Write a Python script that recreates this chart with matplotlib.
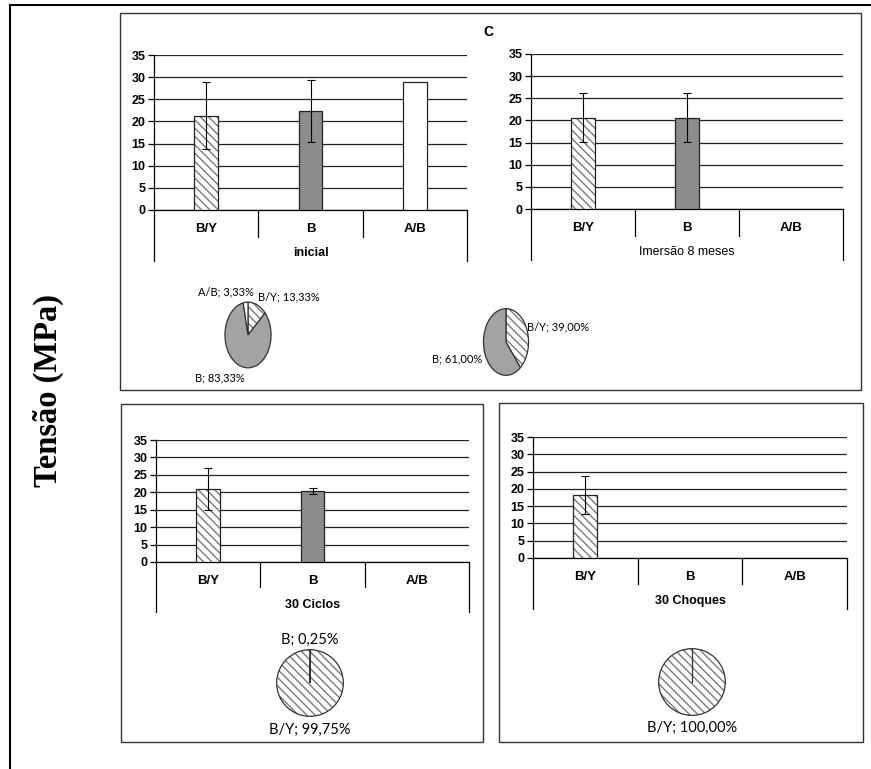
import matplotlib
matplotlib.use("Agg")
import matplotlib.pyplot as plt
from matplotlib.patches import Rectangle
from matplotlib.lines import Line2D

# ---- data ----
categories = ["B/Y", "B", "A/B"]

panel_titles = ["inicial", "Imersão 8 meses", "30 Ciclos", "30 Choques"]
panel_title_bold = [True, False, True, True]

# mean tension (MPa) per category, None = no bar
means = [
    [21.3, 22.3, 28.9],
    [20.6, 20.6, None],
    [20.9, 20.4, None],
    [18.2, None, None],
]
errors = [
    [7.5, 7.0, None],
    [5.5, 5.5, None],
    [6.0, 0.8, None],
    [5.5, None, None],
]

# failure-mode shares (%), order clockwise from 12 o'clock
pie_labels = [
    ["B/Y", "B", "A/B"],
    ["B/Y", "B"],
    ["B", "B/Y"],
    ["B/Y"],
]
pie_values = [
    [13.33, 83.33, 3.33],
    [39.00, 61.00],
    [0.25, 99.75],
    [100.00],
]

W, H = 871, 769
fig = plt.figure(figsize=(W / 100, H / 100), dpi=100)

BAR_FONT = "Liberation Sans"
PIE_FONT = "Lato"
GREY_FILL = "#8c8c8c"
PIE_GREY = "#a3a3a3"
HATCH_COL = "#7a7a7a"
plt.rcParams["hatch.linewidth"] = 1.0


def fx(x):
    return x / W


def fy(y):
    return 1 - y / H


def px_axes(x0, y0, x1, y1):
    return fig.add_axes([fx(x0), fy(y1), fx(x1) - fx(x0), fy(y0) - fy(y1)])


def style_for(label):
    if label == "B/Y":
        return dict(facecolor="white", hatch="\\\\\\\\", hatch_color=HATCH_COL)
    if label == "B":
        return dict(facecolor=GREY_FILL, hatch=None, hatch_color=None)
    return dict(facecolor="white", hatch=None, hatch_color=None)


# bar axes geometry in pixels: x0, ytop(35), x1, ybottom(0), level1 bottom, outer bottom
bar_geom = [
    (154, 55, 467, 210, 237, 261),
    (531, 54, 843, 209, 236, 260),
    (156, 440, 469, 562, 587, 612),
    (533, 437, 847, 558, 584, 609),
]

for i, (x0, yt, x1, yb, yl1, yl2) in enumerate(bar_geom):
    ax = px_axes(x0, yt, x1, yb)
    h = yb - yt
    ax.set_xlim(0, 3)
    ax.set_ylim(0, 35)
    ax.set_axisbelow(True)
    ax.yaxis.grid(True, color="#222222", linewidth=0.9)
    ax.set_yticks(range(0, 36, 5))
    ax.tick_params(axis="y", length=4, width=0.9, pad=2)
    ax.set_xticks([])
    for lab in ax.get_yticklabels():
        lab.set_fontfamily(BAR_FONT)
        lab.set_fontweight("bold")
        lab.set_fontsize(9)
    for s in ["top", "right"]:
        ax.spines[s].set_visible(False)
    ax.spines["left"].set_linewidth(0.9)
    ax.spines["bottom"].set_linewidth(0.9)

    for j, cat in enumerate(categories):
        m = means[i][j]
        if m is None:
            continue
        st = style_for(cat)
        b = ax.bar(j + 0.5, m, width=0.23, facecolor=st["facecolor"],
                   edgecolor="#222222", linewidth=0.9, hatch=st["hatch"], zorder=3)
        if st["hatch_color"]:
            b[0]._hatch_color = matplotlib.colors.to_rgba(st["hatch_color"])
        e = errors[i][j]
        if e is not None:
            ax.errorbar(j + 0.5, m, yerr=e, fmt="none", ecolor="black",
                        elinewidth=0.8, capsize=3, capthick=0.8, zorder=4)

    # multi-level category axis
    d1 = -(yl1 - yb) / h
    d2 = -(yl2 - yb) / h
    kw = dict(transform=ax.transAxes, clip_on=False, color="black", linewidth=0.9)
    ax.add_line(Line2D([0, 0], [0, d2], **kw))
    ax.add_line(Line2D([1, 1], [0, d2], **kw))
    for k in (1, 2):
        ax.add_line(Line2D([k / 3, k / 3], [0, d1], **kw))
    for j, cat in enumerate(categories):
        ax.text((j + 0.5) / 3, -19 / h, cat, transform=ax.transAxes,
                ha="center", va="center", fontsize=9.5, fontweight="bold",
                fontfamily=BAR_FONT)
    ax.text(0.5, -43 / h, panel_titles[i], transform=ax.transAxes,
            ha="center", va="center", fontsize=9,
            fontweight="bold" if panel_title_bold[i] else "normal",
            fontfamily=BAR_FONT)

# pie geometry in pixels: centre x, centre y, half width, half height
pie_geom = [
    (248, 335, 23.5, 33.5),
    (506, 342, 23, 34),
    (310, 683, 34, 34),
    (692, 682, 34, 34),
]
# label positions (pixels), one per slice
pie_text_pos = [
    [(289, 297), (220, 378), (226, 292)],
    [(558, 327), (457, 359)],
    [(310, 640), (310, 730)],
    [(692, 728)],
]
pie_font_size = [8, 8, 10.5, 10.5]

for i, (cx, cy, rx, ry) in enumerate(pie_geom):
    ax = px_axes(cx - rx, cy - ry, cx + rx, cy + ry)
    labs = pie_labels[i]
    vals = pie_values[i]
    cols = [PIE_GREY if l == "B" else "white" for l in labs]
    wedges, _ = ax.pie(vals, startangle=90, counterclock=False, colors=cols,
                       radius=1, wedgeprops=dict(edgecolor="#333333", linewidth=0.9))
    for w, l in zip(wedges, labs):
        if l == "B/Y":
            w.set_hatch("\\\\\\\\")
            w._hatch_color = matplotlib.colors.to_rgba(HATCH_COL)
    if len(vals) == 1:
        ax.plot([0, 0], [0, 1], color="#333333", linewidth=0.9)
    ax.set_aspect("auto")
    ax.set_xlim(-1.02, 1.02)
    ax.set_ylim(-1.02, 1.02)
    ax.axis("off")
    for l, v, (tx, ty) in zip(labs, vals, pie_text_pos[i]):
        txt = f"{l}; {v:.2f}".replace(".", ",") + "%"
        fig.text(fx(tx), fy(ty), txt, ha="center", va="center",
                 fontsize=pie_font_size[i], fontfamily=PIE_FONT)

# panel frames
for (x0, y0, x1, y1) in [(120, 13, 861, 390), (121, 404, 483, 742), (499, 403, 863, 742)]:
    fig.add_artist(Rectangle((fx(x0), fy(y1)), fx(x1) - fx(x0), fy(y0) - fy(y1),
                             transform=fig.transFigure, fill=False,
                             edgecolor="#333333", linewidth=1.0))

# outer frame (left and top edges)
fig.add_artist(Line2D([fx(10), fx(10)], [fy(5), 0], transform=fig.transFigure,
                      color="black", linewidth=1.5))
fig.add_artist(Line2D([fx(10), 1], [fy(5), fy(5)], transform=fig.transFigure,
                      color="black", linewidth=1.5))

fig.text(fx(488), fy(32), "C", ha="center", va="center", fontsize=10,
         fontweight="bold", fontfamily=BAR_FONT)

fig.text(fx(48), fy(390), "Tensão (MPa)", rotation=90, ha="center", va="center",
         fontsize=23.5, fontweight="bold", fontfamily="Liberation Serif")

fig.savefig("out.png", dpi=100)
